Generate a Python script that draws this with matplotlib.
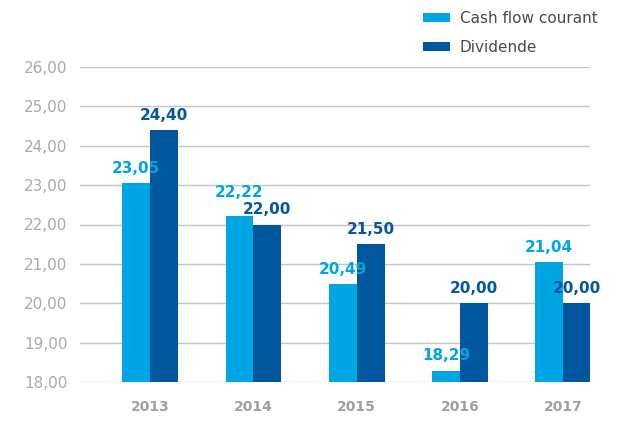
import matplotlib
matplotlib.use("Agg")
import matplotlib.pyplot as plt
import numpy as np

years = ['2013', '2014', '2015', '2016', '2017']
cash_flow = [23.05, 22.22, 20.49, 18.29, 21.04]
dividende = [24.40, 22.00, 21.50, 20.00, 20.00]
yticks = [18, 19, 20, 21, 22, 23, 24, 25, 26]

c_cash = '#00a6e3'
c_div = '#00579e'

def fr(v):
    return f'{v:.2f}'.replace('.', ',')

plt.rcParams['font.family'] = ['DejaVu Sans']

fig = plt.figure(figsize=(6.17, 4.22), dpi=100)
ax = fig.add_axes([80/617, 40/422, 510/617, 315/422])

x = np.arange(len(years))
w = 0.27
ax.bar(x - w/2, cash_flow, w, color=c_cash, label='Cash flow courant', zorder=3)
ax.bar(x + w/2, dividende, w, color=c_div, label='Dividende', zorder=3)

# value labels, ~10pt above the bar; lift the higher one when two labels collide
for i in range(len(years)):
    off_c, off_d = 10.5, 10.5
    if abs(cash_flow[i] - dividende[i]) < 0.4:
        if cash_flow[i] > dividende[i]:
            off_c += 6
        else:
            off_d += 6
    ax.annotate(fr(cash_flow[i]), (x[i] - w/2, cash_flow[i]), xytext=(0, off_c),
                textcoords='offset points', ha='center', va='center',
                color=c_cash, fontsize=11, fontweight='bold')
    ax.annotate(fr(dividende[i]), (x[i] + w/2, dividende[i]), xytext=(0, off_d),
                textcoords='offset points', ha='center', va='center',
                color=c_div, fontsize=11, fontweight='bold')

ax.set_ylim(18, 26)
ax.set_xlim(-0.68, 4.26)
ax.set_yticks(yticks)
ax.set_yticklabels([fr(v) for v in yticks])
ax.set_xticks(x)
ax.set_xticklabels(years)
ax.tick_params(axis='y', length=0, pad=9, labelsize=11, labelcolor='#aaaaaa')
ax.tick_params(axis='x', length=0, pad=13, labelsize=10, labelcolor='#a0a0a0')
for lb in ax.get_xticklabels():
    lb.set_fontweight('bold')
ax.grid(axis='y', color='#c4c4c4', linewidth=1, zorder=0)
for s in ax.spines.values():
    s.set_visible(False)

fig.legend(loc='upper left', bbox_to_anchor=(423/617, 1 - 11/422), frameon=False,
           fontsize=11, handlelength=1.76, handleheight=0.5, labelspacing=0.9,
           handletextpad=0.65, borderpad=0, borderaxespad=0, labelcolor='#4a4a4a')

fig.savefig('out.png', dpi=100)
